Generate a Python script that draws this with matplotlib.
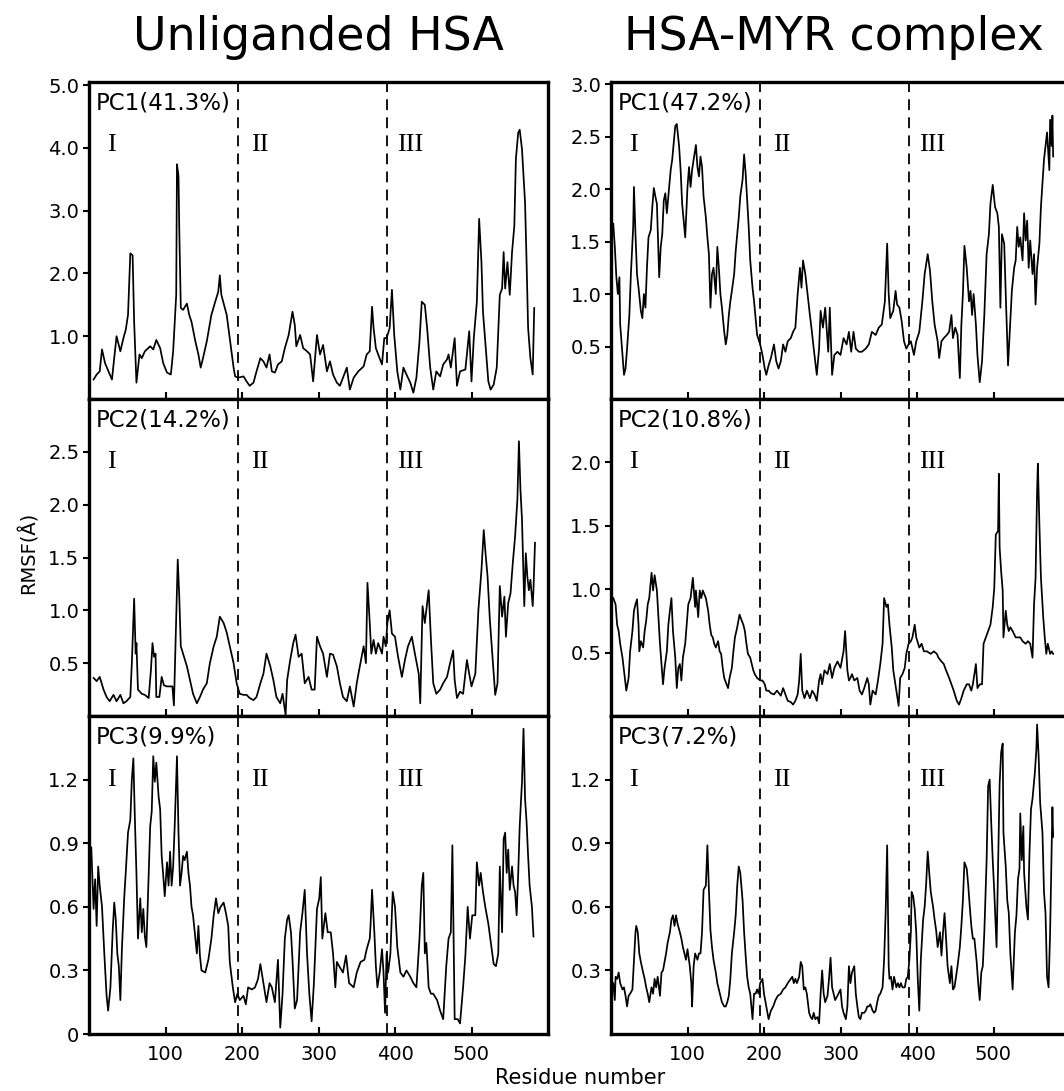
import matplotlib
matplotlib.use("Agg")
import matplotlib.pyplot as plt

# ---- data (residue, RMSF in Angstrom) ----
lt_res = [6, 10, 14, 17, 21, 30, 36, 41, 45, 48, 51, 54, 57, 59, 62, 66, 69, 73, 80, 84, 88, 93, 97, 102, 107, 110,
          114, 115, 117, 118, 120, 123, 128, 131, 134, 139, 143, 146, 149, 154, 160, 165, 169, 171, 173, 180, 184,
          189, 191, 195, 202, 206, 210, 215, 219, 224, 228, 232, 236, 239, 243, 247, 252, 256, 261, 266, 269, 271,
          276, 280, 285, 289, 293, 298, 302, 306, 311, 315, 319, 324, 328, 332, 337, 341, 346, 352, 359, 363, 367,
          370, 372, 375, 378, 383, 386, 389, 393, 396, 399, 403, 407, 411, 415, 420, 424, 428, 432, 435, 439, 442,
          446, 450, 454, 459, 463, 468, 470, 473, 478, 481, 485, 492, 497, 500, 503, 507, 510, 513, 515, 519, 522,
          525, 529, 533, 537, 540, 542, 544, 547, 550, 553, 556, 558, 561, 563, 566, 568, 570, 572, 574, 577, 580, 582]
lt_rmsf = [0.31, 0.39, 0.44, 0.79, 0.57, 0.31, 1.00, 0.76, 0.97, 1.10, 1.34, 2.32, 2.29, 1.23, 0.26, 0.71, 0.65, 0.76,
           0.84, 0.79, 0.94, 0.81, 0.57, 0.42, 0.39, 0.76, 1.66, 3.74, 3.55, 2.71, 1.45, 1.42, 1.52, 1.34, 1.23, 0.92,
           0.71, 0.50, 0.65, 0.92, 1.34, 1.55, 1.71, 1.97, 1.66, 1.34, 0.97, 0.50, 0.36, 0.34, 0.36, 0.28, 0.21, 0.26,
           0.44, 0.65, 0.60, 0.50, 0.71, 0.44, 0.42, 0.55, 0.60, 0.81, 1.02, 1.39, 1.18, 0.84, 1.02, 0.81, 0.76, 0.71,
           0.28, 1.02, 0.71, 0.86, 0.44, 0.60, 0.39, 0.26, 0.21, 0.34, 0.50, 0.15, 0.34, 0.44, 0.52, 0.71, 0.76, 1.47,
           1.13, 0.81, 0.71, 0.55, 0.97, 0.97, 1.13, 1.74, 1.02, 0.44, 0.15, 0.50, 0.39, 0.26, 0.10, 0.34, 0.92, 1.55,
           1.50, 1.13, 0.50, 0.15, 0.44, 0.36, 0.55, 0.63, 0.71, 0.50, 0.97, 0.21, 0.44, 0.47, 1.08, 0.28, 0.97, 1.55,
           2.87, 2.18, 1.39, 0.76, 0.28, 0.15, 0.23, 0.50, 1.66, 1.76, 2.34, 1.76, 2.18, 1.66, 2.34, 2.76, 3.82, 4.24,
           4.29, 3.98, 3.55, 3.13, 2.18, 1.13, 0.65, 0.39, 1.45]

lm_res = [6, 10, 14, 19, 23, 27, 32, 36, 41, 45, 49, 54, 56, 59, 61, 62, 64, 69, 73, 78, 81, 83, 85, 87, 88, 92, 95,
          98, 102, 106, 109, 111, 113, 116, 118, 120, 123, 128, 132, 136, 141, 145, 149, 154, 158, 163, 167, 171,
          176, 180, 184, 189, 193, 197, 202, 206, 210, 215, 219, 224, 228, 232, 237, 241, 245, 250, 253, 257, 259,
          263, 267, 270, 274, 278, 282, 287, 291, 295, 298, 302, 306, 311, 315, 319, 324, 328, 332, 337, 341, 346,
          350, 354, 359, 362, 364, 367, 369, 372, 375, 378, 383, 385, 388, 390, 393, 396, 400, 404, 409, 413, 417,
          422, 426, 431, 433, 436, 439, 444, 447, 450, 454, 459, 463, 468, 472, 476, 478, 481, 485, 489, 494, 497,
          500, 505, 509, 513, 516, 518, 521, 524, 528, 531, 534, 537, 540, 543, 545, 548, 551, 554, 557, 560, 562,
          564, 566, 569, 571, 573, 575, 577, 580, 581, 583]
lm_rmsf = [0.36, 0.33, 0.37, 0.25, 0.18, 0.14, 0.20, 0.14, 0.20, 0.12, 0.14, 0.18, 0.50, 1.11, 0.59, 0.69, 0.25, 0.21,
           0.20, 0.17, 0.44, 0.69, 0.56, 0.59, 0.18, 0.18, 0.37, 0.29, 0.28, 0.28, 0.28, 0.10, 0.66, 1.48, 1.13, 0.66,
           0.59, 0.47, 0.34, 0.21, 0.12, 0.18, 0.25, 0.31, 0.50, 0.66, 0.75, 0.94, 0.88, 0.79, 0.66, 0.50, 0.31, 0.21,
           0.20, 0.20, 0.17, 0.15, 0.18, 0.31, 0.40, 0.59, 0.47, 0.34, 0.18, 0.12, 0.21, 0.01, 0.34, 0.53, 0.69, 0.77,
           0.56, 0.59, 0.31, 0.37, 0.25, 0.25, 0.75, 0.66, 0.59, 0.37, 0.59, 0.58, 0.47, 0.31, 0.18, 0.14, 0.28, 0.09,
           0.31, 0.47, 0.66, 0.50, 1.26, 0.88, 0.59, 0.72, 0.59, 0.69, 0.59, 0.75, 0.66, 0.88, 1.00, 0.78, 0.75, 0.56,
           0.37, 0.53, 0.66, 0.75, 0.59, 0.40, 0.12, 1.04, 0.88, 1.19, 0.72, 0.31, 0.21, 0.25, 0.31, 0.37, 0.50, 0.62,
           0.34, 0.17, 0.23, 0.21, 0.53, 0.40, 0.28, 0.40, 1.00, 1.38, 1.76, 1.57, 1.32, 0.91, 0.50, 0.20, 0.31, 1.23,
           0.94, 1.13, 0.75, 1.07, 1.16, 1.45, 1.70, 2.05, 2.60, 2.14, 1.86, 1.04, 1.54, 1.32, 1.19, 1.29, 1.04, 1.19,
           1.64]

lb_res = [3, 6, 8, 10, 12, 14, 17, 20, 23, 25, 28, 31, 33, 35, 37, 39, 41, 43, 46, 48, 51, 54, 56, 58, 60, 62, 64, 67,
          69, 71, 73, 75, 78, 80, 82, 84, 86, 88, 91, 93, 95, 97, 99, 102, 104, 106, 108, 110, 112, 115, 117, 119,
          121, 123, 125, 128, 130, 132, 134, 136, 139, 141, 143, 145, 147, 152, 156, 160, 163, 166, 169, 172, 176,
          179, 182, 184, 188, 191, 194, 197, 202, 205, 208, 213, 217, 221, 224, 228, 232, 236, 239, 243, 247, 250,
          253, 256, 259, 261, 264, 266, 269, 272, 276, 279, 282, 285, 288, 291, 294, 298, 301, 303, 305, 309, 312,
          316, 319, 322, 324, 327, 332, 336, 340, 346, 350, 355, 360, 363, 367, 368, 370, 373, 375, 377, 380, 383,
          385, 387, 389, 391, 394, 397, 400, 403, 407, 411, 415, 420, 424, 428, 432, 435, 437, 439, 441, 444, 447,
          450, 455, 459, 463, 467, 470, 473, 475, 478, 482, 485, 489, 492, 495, 498, 501, 505, 507, 510, 512, 515,
          518, 522, 526, 529, 532, 535, 537, 540, 542, 544, 546, 548, 550, 553, 555, 557, 559, 561, 563, 566, 568,
          570, 572, 574, 576, 579, 581]
lb_rmsf = [0.88, 0.59, 0.73, 0.51, 0.79, 0.70, 0.60, 0.38, 0.18, 0.11, 0.22, 0.49, 0.62, 0.54, 0.38, 0.32, 0.16, 0.40,
           0.64, 0.76, 0.95, 1.01, 1.20, 1.30, 1.01, 0.76, 0.45, 0.64, 0.48, 0.59, 0.46, 0.41, 0.76, 0.98, 1.05, 1.31,
           1.19, 1.28, 1.12, 1.06, 0.84, 0.75, 0.65, 0.81, 0.70, 0.86, 0.70, 0.79, 0.98, 1.31, 0.95, 0.70, 0.76, 0.84,
           0.82, 0.86, 0.76, 0.70, 0.60, 0.56, 0.45, 0.38, 0.51, 0.37, 0.30, 0.29, 0.35, 0.45, 0.56, 0.64, 0.57, 0.60,
           0.62, 0.57, 0.51, 0.34, 0.22, 0.15, 0.19, 0.16, 0.18, 0.14, 0.22, 0.21, 0.22, 0.26, 0.33, 0.24, 0.15, 0.24,
           0.22, 0.15, 0.35, 0.03, 0.19, 0.45, 0.54, 0.56, 0.48, 0.35, 0.12, 0.16, 0.48, 0.57, 0.68, 0.38, 0.19, 0.06,
           0.24, 0.59, 0.64, 0.74, 0.45, 0.57, 0.48, 0.48, 0.38, 0.22, 0.34, 0.32, 0.29, 0.37, 0.24, 0.22, 0.29, 0.34,
           0.35, 0.40, 0.45, 0.51, 0.68, 0.48, 0.32, 0.22, 0.29, 0.40, 0.29, 0.10, 0.38, 0.29, 0.38, 0.67, 0.60, 0.41,
           0.29, 0.27, 0.30, 0.27, 0.24, 0.22, 0.45, 0.70, 0.76, 0.38, 0.43, 0.22, 0.19, 0.19, 0.16, 0.11, 0.07, 0.32,
           0.45, 0.48, 0.89, 0.07, 0.07, 0.05, 0.22, 0.37, 0.60, 0.45, 0.56, 0.56, 0.81, 0.70, 0.76, 0.67, 0.60, 0.52,
           0.41, 0.33, 0.32, 0.38, 0.79, 0.48, 0.92, 0.95, 0.76, 0.87, 0.68, 0.79, 0.70, 0.67, 0.56, 0.75, 0.98, 1.19,
           1.44, 1.11, 1.00, 0.84, 0.70, 0.60, 0.46]

rt_res = [3, 5, 7, 9, 11, 12, 15, 17, 19, 21, 24, 26, 29, 30, 32, 34, 36, 39, 41, 43, 45, 47, 49, 52, 54, 56, 58, 60,
          63, 65, 67, 69, 71, 73, 76, 78, 80, 82, 84, 86, 89, 91, 93, 95, 97, 100, 102, 104, 106, 108, 111, 113, 115,
          117, 119, 121, 124, 126, 128, 130, 132, 134, 137, 139, 141, 143, 145, 148, 150, 152, 154, 156, 158, 161,
          163, 165, 167, 169, 172, 174, 176, 178, 180, 182, 185, 187, 189, 191, 195, 198, 201, 203, 206, 209, 213,
          216, 219, 222, 225, 228, 231, 235, 238, 241, 244, 247, 249, 251, 254, 256, 260, 262, 265, 269, 272, 274,
          277, 280, 284, 286, 289, 292, 296, 300, 304, 308, 311, 314, 317, 320, 324, 328, 333, 337, 341, 346, 350,
          354, 358, 361, 363, 365, 369, 372, 374, 377, 380, 383, 386, 389, 392, 396, 399, 403, 407, 410, 414, 417,
          420, 423, 427, 429, 432, 435, 439, 442, 445, 447, 450, 453, 456, 458, 460, 462, 465, 468, 470, 472, 474,
          477, 479, 482, 485, 488, 491, 494, 496, 499, 502, 505, 507, 509, 511, 514, 516, 519, 521, 524, 527, 529,
          531, 533, 535, 538, 540, 542, 544, 546, 548, 551, 553, 555, 557, 560, 562, 564, 566, 568, 570, 573, 574,
          576, 577, 578]
rt_rmsf = [1.67, 1.45, 1.16, 1.00, 1.16, 0.71, 0.42, 0.23, 0.29, 0.48, 0.80, 1.19, 1.64, 2.02, 1.57, 1.19, 1.06, 0.84,
           0.77, 1.00, 0.87, 1.25, 1.54, 1.61, 1.83, 2.01, 1.93, 1.86, 1.16, 1.45, 1.57, 1.89, 1.96, 1.77, 2.02, 2.18,
           2.28, 2.44, 2.60, 2.62, 2.41, 2.18, 1.86, 1.70, 1.54, 2.02, 2.21, 2.02, 2.18, 2.28, 2.42, 2.21, 2.12, 2.31,
           2.21, 1.93, 1.73, 1.54, 1.38, 0.87, 1.19, 1.25, 1.00, 1.45, 1.25, 1.00, 0.87, 0.64, 0.52, 0.61, 0.80, 0.93,
           1.03, 1.19, 1.41, 1.57, 1.73, 1.93, 2.09, 2.33, 2.15, 1.89, 1.64, 1.32, 1.06, 0.93, 0.77, 0.61, 0.52, 0.42,
           0.29, 0.23, 0.32, 0.39, 0.52, 0.36, 0.29, 0.36, 0.52, 0.45, 0.55, 0.58, 0.64, 0.68, 1.00, 1.25, 1.06, 1.32,
           1.19, 1.06, 0.80, 0.68, 0.48, 0.23, 0.48, 0.84, 0.68, 0.87, 0.45, 0.87, 0.23, 0.42, 0.45, 0.42, 0.58, 0.52,
           0.64, 0.45, 0.64, 0.48, 0.45, 0.45, 0.48, 0.52, 0.64, 0.61, 0.68, 0.71, 0.93, 1.48, 1.00, 0.77, 0.84, 1.03,
           0.90, 0.87, 0.74, 0.55, 0.48, 0.52, 0.55, 0.42, 0.55, 0.64, 0.93, 1.19, 1.38, 1.22, 0.93, 0.71, 0.55, 0.39,
           0.55, 0.58, 0.61, 0.64, 0.80, 0.58, 0.68, 0.61, 0.20, 0.71, 1.00, 1.46, 1.25, 0.93, 1.03, 0.80, 1.00, 0.71,
           0.42, 0.16, 0.36, 0.80, 1.38, 1.57, 1.86, 2.04, 1.83, 1.77, 1.64, 0.87, 1.57, 1.48, 1.00, 0.32, 0.61, 1.03,
           1.25, 1.32, 1.64, 1.45, 1.54, 1.32, 1.77, 1.51, 1.70, 1.25, 1.51, 1.19, 1.38, 0.90, 1.25, 1.48, 1.83, 2.05,
           2.28, 2.41, 2.54, 2.18, 2.66, 2.41, 2.70, 2.31]

rm_res = [3, 6, 8, 10, 12, 15, 18, 20, 23, 25, 28, 30, 32, 34, 36, 37, 39, 42, 44, 46, 48, 50, 53, 55, 57, 60, 62, 64,
          66, 68, 70, 73, 75, 77, 79, 81, 84, 86, 88, 90, 92, 94, 97, 99, 101, 104, 107, 110, 111, 114, 116, 118,
          120, 122, 124, 127, 129, 131, 133, 135, 137, 140, 142, 144, 146, 148, 151, 153, 155, 158, 160, 162, 165,
          168, 171, 173, 175, 177, 179, 182, 184, 186, 188, 191, 195, 198, 201, 203, 206, 209, 213, 217, 222, 225,
          228, 231, 235, 238, 241, 244, 246, 248, 250, 253, 256, 260, 263, 266, 269, 272, 274, 276, 279, 283, 286,
          289, 292, 296, 300, 304, 306, 309, 311, 313, 315, 318, 322, 325, 328, 331, 335, 337, 339, 342, 346, 349,
          352, 355, 357, 360, 362, 364, 367, 369, 371, 373, 376, 378, 381, 384, 386, 389, 392, 394, 397, 399, 403,
          406, 409, 413, 418, 422, 426, 428, 432, 435, 438, 442, 445, 448, 452, 455, 458, 461, 465, 468, 471, 473,
          477, 479, 482, 485, 487, 490, 493, 496, 499, 501, 503, 506, 507, 508, 510, 512, 513, 516, 518, 520, 522,
          525, 529, 532, 535, 538, 542, 545, 548, 551, 553, 555, 557, 558, 560, 562, 565, 567, 569, 571, 574, 576,
          578]
rm_rmsf = [0.93, 0.88, 0.72, 0.67, 0.57, 0.46, 0.30, 0.20, 0.30, 0.51, 0.67, 0.83, 0.88, 0.92, 0.72, 0.51, 0.59, 0.54,
           0.67, 0.75, 0.88, 0.93, 1.13, 0.99, 1.11, 0.99, 0.78, 0.57, 0.41, 0.25, 0.38, 0.51, 0.72, 0.83, 0.93, 0.67,
           0.46, 0.22, 0.38, 0.41, 0.28, 0.46, 0.57, 0.72, 0.88, 0.93, 1.09, 0.86, 0.99, 0.78, 0.99, 0.93, 0.99, 0.96,
           0.93, 0.83, 0.72, 0.64, 0.62, 0.57, 0.54, 0.59, 0.51, 0.49, 0.38, 0.30, 0.25, 0.22, 0.30, 0.38, 0.51, 0.62,
           0.70, 0.80, 0.75, 0.72, 0.67, 0.57, 0.49, 0.46, 0.41, 0.36, 0.33, 0.30, 0.28, 0.28, 0.25, 0.20, 0.20, 0.18,
           0.17, 0.20, 0.16, 0.22, 0.17, 0.12, 0.11, 0.09, 0.12, 0.17, 0.28, 0.49, 0.20, 0.14, 0.20, 0.14, 0.20, 0.17,
           0.12, 0.28, 0.33, 0.25, 0.36, 0.33, 0.41, 0.30, 0.38, 0.43, 0.38, 0.51, 0.67, 0.36, 0.28, 0.30, 0.33, 0.28,
           0.30, 0.20, 0.17, 0.22, 0.30, 0.25, 0.09, 0.20, 0.17, 0.28, 0.41, 0.57, 0.93, 0.86, 0.88, 0.72, 0.54, 0.36,
           0.28, 0.20, 0.08, 0.30, 0.33, 0.38, 0.49, 0.57, 0.59, 0.62, 0.72, 0.62, 0.54, 0.57, 0.51, 0.51, 0.49, 0.51,
           0.49, 0.46, 0.43, 0.41, 0.36, 0.30, 0.25, 0.20, 0.12, 0.09, 0.14, 0.20, 0.25, 0.25, 0.20, 0.25, 0.41, 0.22,
           0.25, 0.25, 0.57, 0.62, 0.67, 0.72, 0.86, 1.01, 1.43, 1.46, 1.91, 1.33, 1.14, 0.99, 0.62, 0.83, 0.72, 0.67,
           0.70, 0.67, 0.62, 0.62, 0.62, 0.59, 0.57, 0.59, 0.57, 0.46, 0.88, 1.09, 1.78, 1.99, 1.51, 1.09, 0.78, 0.62,
           0.49, 0.57, 0.49, 0.51, 0.49]

rb_res = [3, 5, 6, 8, 10, 12, 15, 17, 19, 21, 23, 25, 28, 30, 32, 33, 35, 37, 39, 42, 44, 46, 48, 50, 53, 55, 57, 59,
          61, 64, 66, 68, 70, 72, 74, 77, 79, 81, 83, 85, 87, 90, 92, 94, 96, 98, 100, 103, 105, 106, 108, 110, 113,
          115, 117, 119, 121, 124, 126, 128, 130, 132, 134, 137, 139, 141, 143, 145, 148, 150, 152, 154, 156, 158,
          161, 163, 165, 167, 169, 172, 174, 176, 178, 180, 182, 185, 187, 189, 191, 193, 195, 198, 200, 202, 204,
          206, 209, 212, 215, 218, 222, 225, 228, 231, 235, 237, 239, 241, 243, 246, 248, 250, 252, 254, 256, 259,
          261, 263, 265, 267, 270, 272, 274, 276, 278, 280, 283, 285, 287, 289, 291, 293, 296, 300, 302, 304, 307,
          309, 311, 313, 315, 318, 320, 322, 324, 326, 328, 331, 333, 335, 337, 339, 342, 344, 346, 348, 350, 352,
          355, 357, 359, 361, 363, 364, 366, 368, 370, 373, 375, 377, 379, 381, 384, 386, 388, 390, 392, 393, 395,
          397, 399, 401, 403, 405, 408, 410, 412, 414, 416, 418, 421, 423, 425, 427, 430, 432, 434, 436, 438, 440,
          443, 445, 447, 449, 451, 453, 456, 458, 460, 462, 465, 467, 469, 471, 473, 475, 478, 480, 482, 484, 486,
          488, 491, 493, 495, 497, 499, 501, 504, 506, 508, 510, 512, 513, 516, 518, 520, 522, 525, 528, 530, 532,
          534, 535, 537, 539, 540, 543, 545, 547, 549, 551, 554, 556, 557, 559, 561, 564, 566, 568, 570, 572, 574,
          575, 577, 578]
rb_rmsf = [0.24, 0.16, 0.27, 0.26, 0.29, 0.24, 0.21, 0.22, 0.18, 0.13, 0.18, 0.19, 0.21, 0.35, 0.48, 0.51, 0.48, 0.38,
           0.34, 0.29, 0.26, 0.22, 0.19, 0.15, 0.22, 0.19, 0.26, 0.22, 0.27, 0.18, 0.29, 0.30, 0.34, 0.38, 0.43, 0.48,
           0.54, 0.56, 0.51, 0.56, 0.52, 0.48, 0.45, 0.41, 0.38, 0.35, 0.40, 0.32, 0.24, 0.13, 0.32, 0.38, 0.35, 0.38,
           0.38, 0.48, 0.68, 0.70, 0.89, 0.68, 0.49, 0.41, 0.35, 0.29, 0.24, 0.21, 0.18, 0.15, 0.13, 0.13, 0.15, 0.18,
           0.26, 0.38, 0.48, 0.56, 0.70, 0.79, 0.76, 0.63, 0.48, 0.37, 0.27, 0.22, 0.19, 0.07, 0.19, 0.19, 0.21, 0.19,
           0.24, 0.26, 0.19, 0.15, 0.11, 0.07, 0.11, 0.13, 0.16, 0.18, 0.19, 0.21, 0.22, 0.24, 0.26, 0.27, 0.24, 0.26,
           0.24, 0.27, 0.34, 0.32, 0.21, 0.22, 0.19, 0.10, 0.08, 0.07, 0.10, 0.07, 0.08, 0.05, 0.19, 0.30, 0.19, 0.15,
           0.18, 0.26, 0.36, 0.22, 0.19, 0.16, 0.18, 0.21, 0.13, 0.10, 0.07, 0.13, 0.32, 0.24, 0.29, 0.32, 0.19, 0.13,
           0.08, 0.07, 0.10, 0.10, 0.11, 0.13, 0.13, 0.14, 0.11, 0.10, 0.11, 0.15, 0.18, 0.19, 0.22, 0.35, 0.57, 0.89,
           0.32, 0.26, 0.27, 0.21, 0.27, 0.22, 0.24, 0.22, 0.24, 0.22, 0.22, 0.26, 0.27, 0.35, 0.48, 0.67, 0.65, 0.59,
           0.48, 0.26, 0.11, 0.35, 0.54, 0.60, 0.71, 0.86, 0.76, 0.67, 0.60, 0.54, 0.49, 0.41, 0.48, 0.37, 0.48, 0.57,
           0.45, 0.32, 0.24, 0.32, 0.21, 0.22, 0.27, 0.32, 0.41, 0.51, 0.63, 0.81, 0.78, 0.70, 0.60, 0.51, 0.45, 0.45,
           0.34, 0.24, 0.16, 0.29, 0.32, 0.48, 0.82, 1.17, 1.20, 1.00, 0.82, 0.67, 0.41, 0.79, 1.18, 1.33, 1.37, 0.95,
           0.79, 0.63, 0.57, 0.38, 0.21, 0.48, 0.56, 0.73, 0.78, 1.04, 0.82, 0.98, 0.76, 0.60, 0.54, 0.85, 1.06, 1.11,
           1.23, 1.34, 1.46, 1.31, 1.09, 0.95, 0.67, 0.57, 0.27, 0.22, 0.48, 0.67, 1.07, 0.93]

pc_labels = ["PC1(41.3%)", "PC2(14.2%)", "PC3(9.9%)", "PC1(47.2%)", "PC2(10.8%)", "PC3(7.2%)"]
titles = ["Unliganded HSA", "HSA-MYR complex"]
domain_bounds = [195, 390]
domain_names = ["I", "II", "III"]
domain_text_x = [23, 212, 403]

ylims = [5.05, 3.0, 1.5, 3.02, 2.5, 1.5]
yticks = [[1.0, 2.0, 3.0, 4.0, 5.0], [0.5, 1.0, 1.5, 2.0, 2.5], [0, 0.3, 0.6, 0.9, 1.2],
          [0.5, 1.0, 1.5, 2.0, 2.5, 3.0], [0.5, 1.0, 1.5, 2.0], [0.3, 0.6, 0.9, 1.2]]
ytick_labels = [["1.0", "2.0", "3.0", "4.0", "5.0"], ["0.5", "1.0", "1.5", "2.0", "2.5"],
                ["0", "0.3", "0.6", "0.9", "1.2"], ["0.5", "1.0", "1.5", "2.0", "2.5", "3.0"],
                ["0.5", "1.0", "1.5", "2.0"], ["0.3", "0.6", "0.9", "1.2"]]

series = [(lt_res, lt_rmsf), (lm_res, lm_rmsf), (lb_res, lb_rmsf),
          (rt_res, rt_rmsf), (rm_res, rm_rmsf), (rb_res, rb_rmsf)]

fig = plt.figure(figsize=(10.64, 10.91), dpi=100)
W, H = 1064.0, 1091.0

col_x = [89 / W, 611 / W]
col_w = 459 / W
row_edges = [82, 399, 716, 1034]

for i, (res, rmsf) in enumerate(series):
    col, row = i // 3, i % 3
    top, bot = row_edges[row], row_edges[row + 1]
    ax = fig.add_axes([col_x[col], 1 - bot / H, col_w, (bot - top) / H])
    ax.plot(res, rmsf, color="black", lw=1.25)
    for b in domain_bounds:
        ax.axvline(b, color="black", lw=1.3, ls=(0, (6, 4)))
    ax.set_xlim(0, 600)
    ax.set_ylim(0, ylims[i])
    ax.set_yticks(yticks[i])
    ax.set_yticklabels(ytick_labels[i])
    ax.set_xticks([100, 200, 300, 400, 500])
    if row == 2:
        ax.set_xticklabels(["100", "200", "300", "400", "500"])
    else:
        ax.set_xticklabels([])
    ax.tick_params(axis="x", direction="in", length=5, width=1.5, labelsize=14, pad=8)
    ax.tick_params(axis="y", direction="out", length=4, width=1.5, labelsize=14, pad=3)
    for s in ax.spines.values():
        s.set_linewidth(2.4)
    ax.text(0.015, 0.935, pc_labels[i], transform=ax.transAxes, fontsize=16.5,
            ha="left", va="center")
    for name, xt in zip(domain_names, domain_text_x):
        ax.text(xt, 0.80, name, transform=ax.get_xaxis_transform(), fontsize=19,
                family="Liberation Serif", ha="left", va="center")

fig.text(318 / W, 1 - 38 / H, titles[0], fontsize=33, ha="center", va="center")
fig.text(834 / W, 1 - 38 / H, titles[1], fontsize=33, ha="center", va="center")
fig.text(28 / W, 1 - 553 / H, "RMSF(Å)", fontsize=14, rotation=90, ha="center", va="center")
fig.text(580 / W, 1 - 1078 / H, "Residue number", fontsize=15, ha="center", va="center")

fig.savefig("out.png", dpi=100)
